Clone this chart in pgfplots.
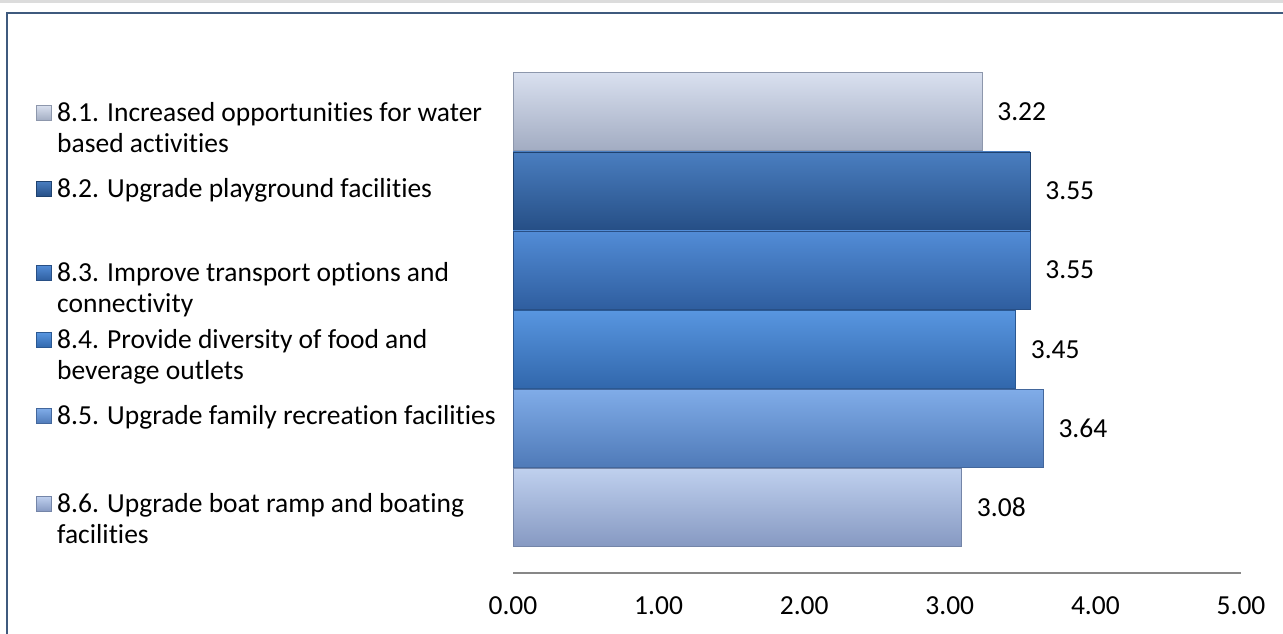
\documentclass[border=0pt]{standalone}
\usepackage{pgfplots}
\pgfplotsset{compat=1.18}
\usepackage{fontspec}
\setmainfont{Carlito}[Ligatures=NoCommon]

\definecolor{frame}{HTML}{3F5A7E}
\definecolor{band}{HTML}{DCDCDC}
\definecolor{axgray}{HTML}{878787}
% bar colours: top / middle / bottom / edge
\definecolor{aT}{HTML}{D9E0EF}\definecolor{aM}{HTML}{BCC6DD}\definecolor{aB}{HTML}{A2ACC2}\definecolor{aE}{HTML}{8D97AC}
\definecolor{bT}{HTML}{4A7EC0}\definecolor{bM}{HTML}{2E5F9E}\definecolor{bB}{HTML}{264F86}\definecolor{bE}{HTML}{1F426F}
\definecolor{cT}{HTML}{528CD6}\definecolor{cM}{HTML}{3A6FB8}\definecolor{cB}{HTML}{2F5E9F}\definecolor{cE}{HTML}{284F85}
\definecolor{dT}{HTML}{5896E0}\definecolor{dM}{HTML}{3D78C4}\definecolor{dB}{HTML}{3167AC}\definecolor{dE}{HTML}{2A5892}
\definecolor{eT}{HTML}{80ACE8}\definecolor{eM}{HTML}{5F8ED0}\definecolor{eB}{HTML}{4F7AB8}\definecolor{eE}{HTML}{43679C}
\definecolor{fT}{HTML}{BFD0EE}\definecolor{fM}{HTML}{9DB2DB}\definecolor{fB}{HTML}{8699C2}\definecolor{fE}{HTML}{7485A8}

\newcommand{\lab}{\fontsize{27.5}{31}\selectfont}

\begin{document}
\begin{tikzpicture}[x=1pt,y=1pt]
\useasboundingbox (0,0) rectangle (1283,634);
\fill[white] (0,0) rectangle (1283,634);
\fill[band] (0,631) rectangle (1283,634);
\draw[frame, line width=2pt] (7,-5) -- (7,621) -- (1290,621);

\begin{axis}[
  at={(513pt,61pt)}, anchor=south west,
  scale only axis, width=728pt, height=501pt,
  xmin=0, xmax=5, ymin=0.174, ymax=6.5,
  axis x line*=bottom, axis y line=none,
  x axis line style={draw=axgray, line width=2.5pt, -},
  xtick={0,1,2,3,4,5}, major tick length=0pt,
  xtick style={draw=none},
  /pgf/number format/assume math mode=true,
  xticklabel={\pgfmathprintnumber[fixed,fixed zerofill,precision=2]{\tick}},
  xticklabel style={font=\lab, anchor=base, yshift=-42pt},
  xbar, bar width=0.985, bar shift=0pt,
  clip=false,
]
\addplot[draw=aE, top color=aT, middle color=aM, bottom color=aB] coordinates {(3.22,6)};
\addplot[draw=bE, top color=bT, middle color=bM, bottom color=bB] coordinates {(3.55,5)};
\addplot[draw=cE, top color=cT, middle color=cM, bottom color=cB] coordinates {(3.55,4)};
\addplot[draw=dE, top color=dT, middle color=dM, bottom color=dB] coordinates {(3.45,3)};
\addplot[draw=eE, top color=eT, middle color=eM, bottom color=eB] coordinates {(3.64,2)};
\addplot[draw=fE, top color=fT, middle color=fM, bottom color=fB] coordinates {(3.08,1)};
% value labels
\addplot[draw=none, mark=none, sharp plot,
  nodes near coords={\pgfmathprintnumber[fixed,fixed zerofill,precision=2]{\pgfplotspointmeta}},
  point meta=x,
  every node near coord/.append style={font=\lab, anchor=west, xshift=12pt, text=black}]
  coordinates {(3.22,6) (3.55,5) (3.55,4) (3.45,3) (3.64,2) (3.08,1)};
\end{axis}

% legend (positions in pixel rows, measured from the top)
\begin{scope}[shift={(0,634)}, yscale=-1]
\newcommand{\leg}[5]{%
  \shade[top color=#3T, bottom color=#3B] (36,#1-7.5) rectangle (51,#1+7.5);
  \draw[#3E, line width=0.6pt] (36,#1-7.5) rectangle (51,#1+7.5);
  \node[anchor=base west, inner sep=0pt, font=\lab] at (57,#1+9) {#4};
  \node[anchor=base west, inner sep=0pt, font=\lab] at (57,#1+9+#2) {#5};}
\leg{113}{31}{a}{8.1. Increased opportunities for water}{based activities}
\leg{189}{31}{b}{8.2. Upgrade playground facilities}{}
\leg{273}{31}{c}{8.3. Improve transport options and}{connectivity}
\leg{340}{31}{d}{8.4. Provide diversity of food and}{beverage outlets}
\leg{416}{31}{e}{8.5. Upgrade family recreation facilities}{}
\leg{504}{31}{f}{8.6. Upgrade boat ramp and boating}{facilities}
\end{scope}
\end{tikzpicture}
\end{document}
